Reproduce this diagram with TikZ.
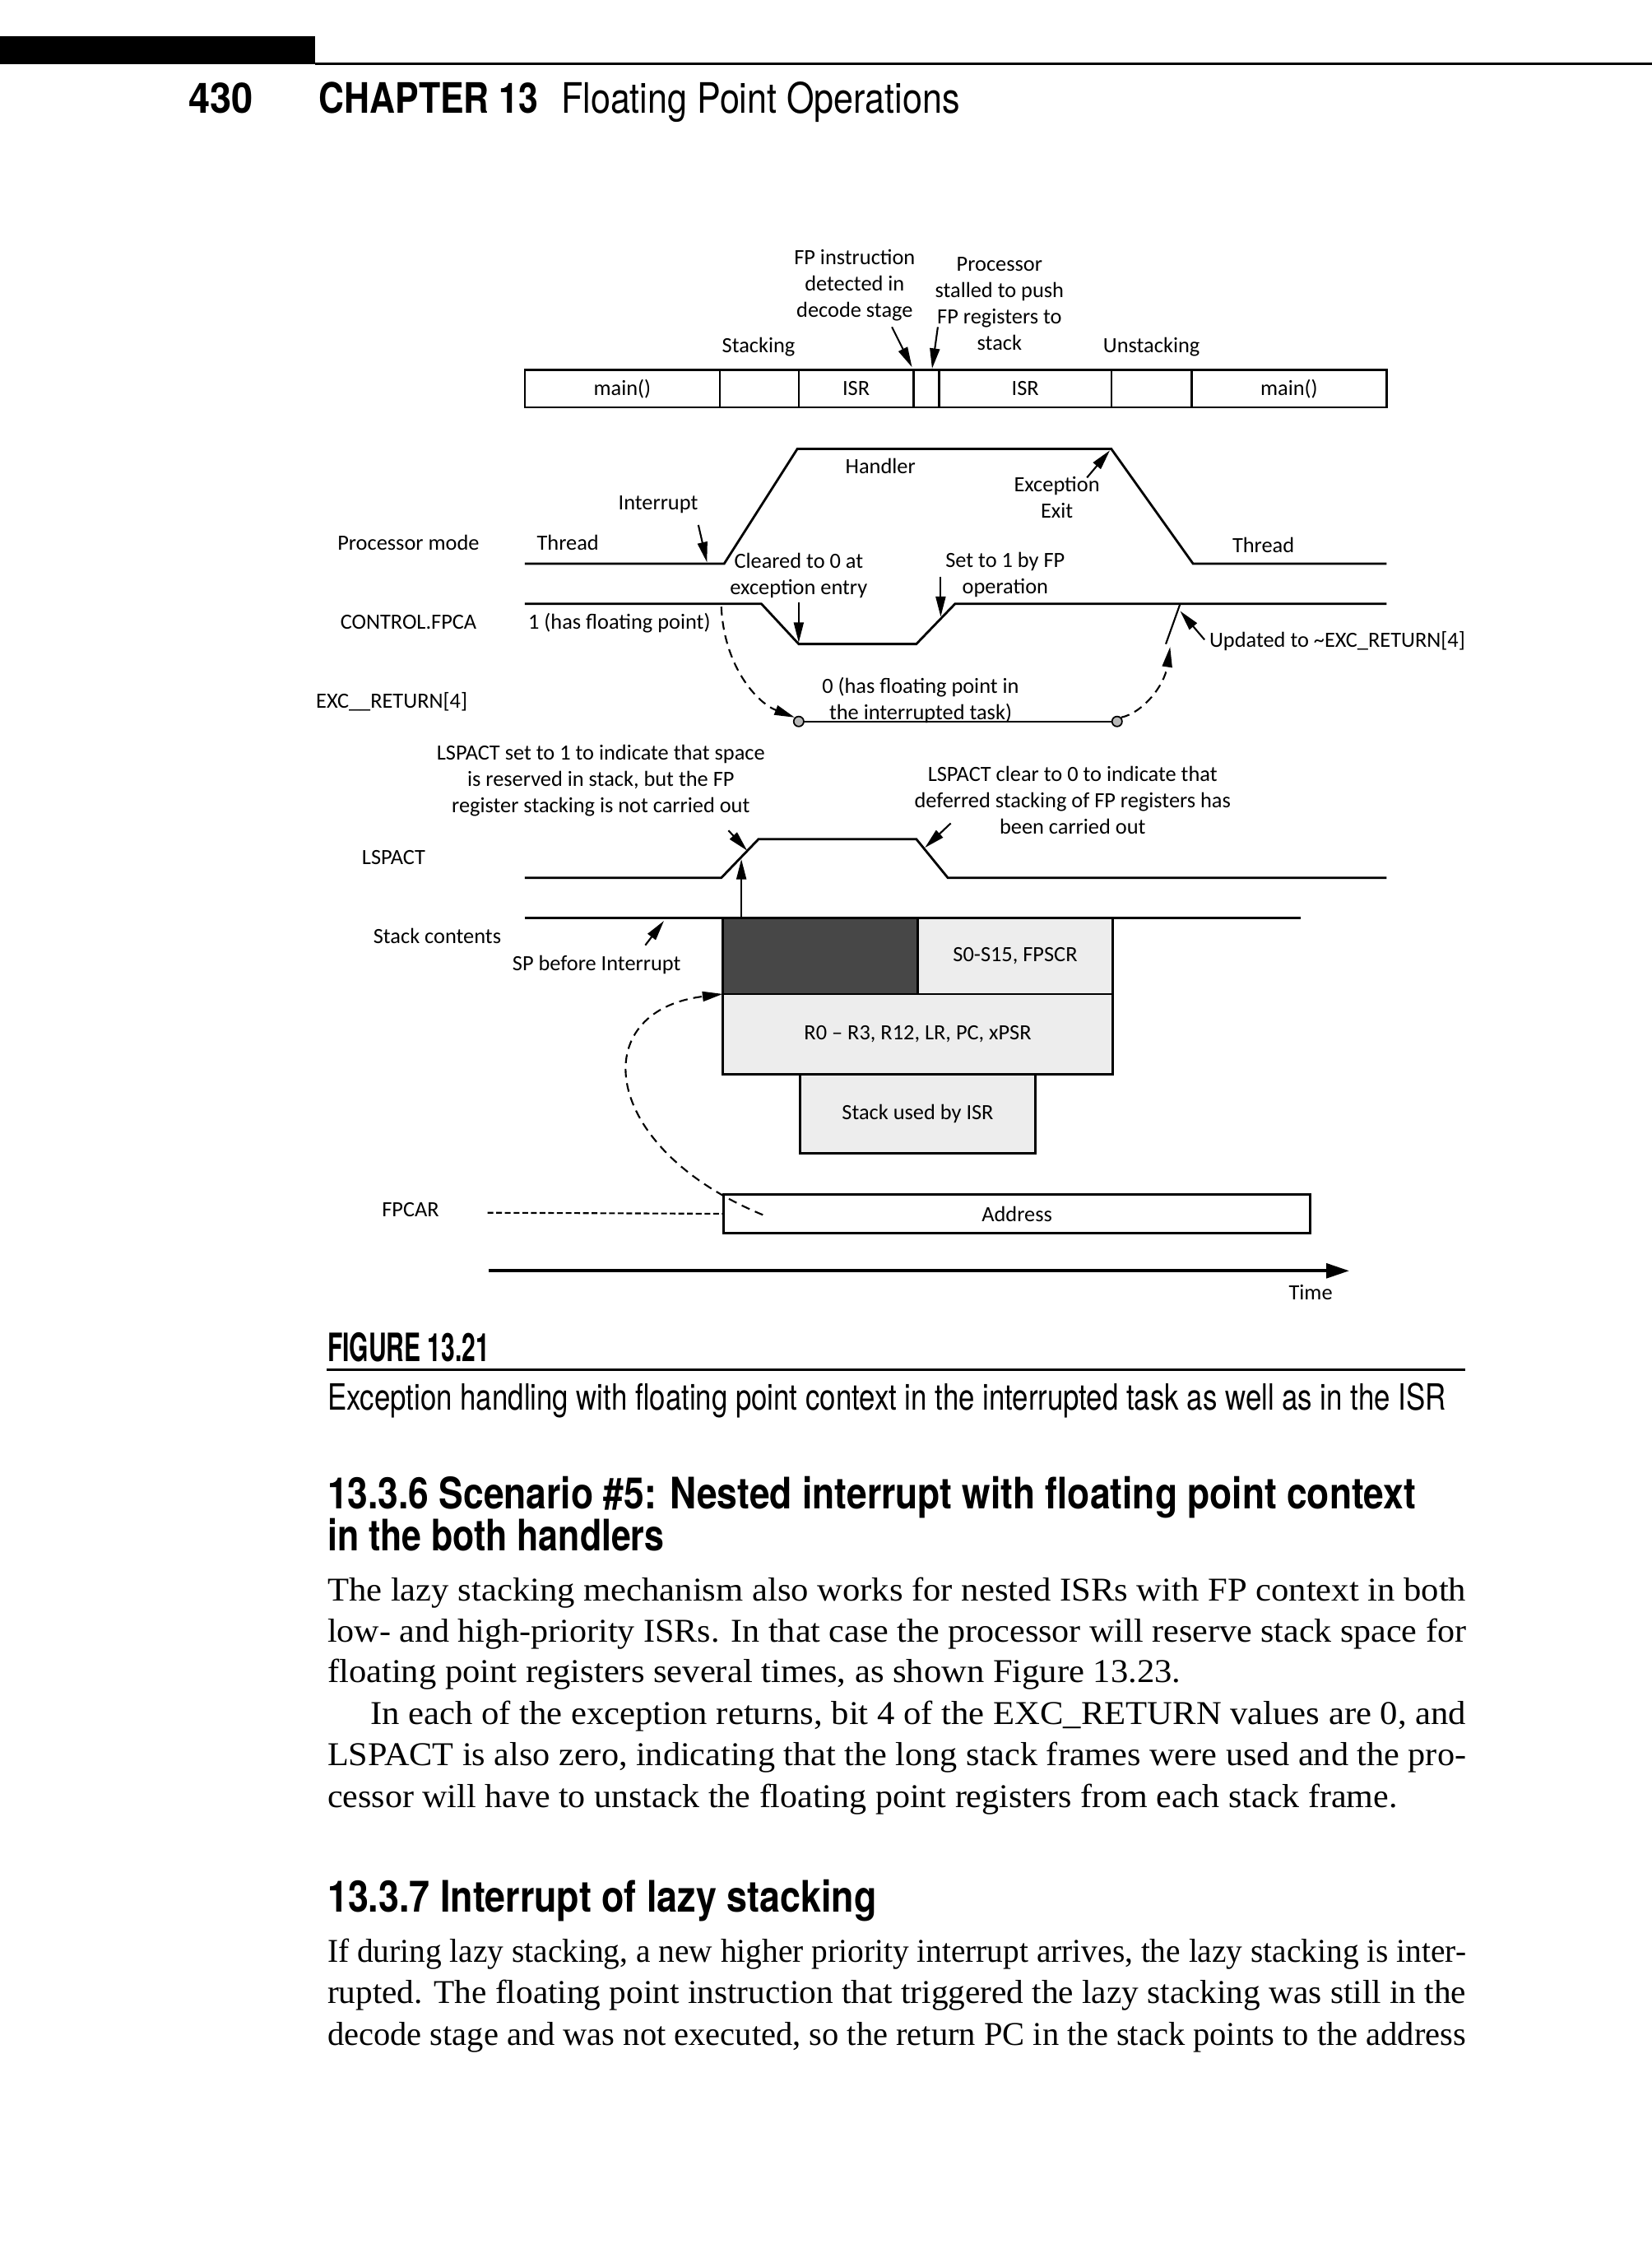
\documentclass[tikz,border=0pt]{standalone}
\usepackage{fontspec}
\usepackage{graphicx}
\setmainfont{Liberation Serif}
\newfontfamily\diagfont{Carlito}
\newfontfamily\headfont{TeX Gyre Heros}
\usetikzlibrary{arrows.meta}
\newlength\upx
\setlength\upx{0.01743cm}
\newcommand\fitw[2]{\resizebox{#1\upx}{\height}{#2}}
\tikzset{
	lbl/.style={font=\diagfont\fontsize{7.5}{9.1}\selectfont, inner sep=0pt},
	lblw/.style={lbl, anchor=base west},
	note/.style={lbl, align=center},
	wave/.style={line width=0.8pt, line join=miter},
	ptr/.style={line width=0.6pt, -{Triangle[length=7pt,width=3.4pt]}},
	dsh/.style={ptr, dash pattern=on 3pt off 2pt},
	cell/.style={draw, line width=0.7pt},
	stk/.style={draw, line width=0.8pt, fill=gray!14, anchor=north west, inner sep=0pt, outer sep=0pt, font=\diagfont\fontsize{7.5}{9.1}\selectfont},
	lvl/.style={draw, line width=0.5pt, fill=gray!55, circle, inner sep=0pt, minimum size=7\upx},
	body/.style={font=\fontsize{11.5}{14.2}\selectfont, inner sep=0pt, anchor=base west},
	head/.style={font=\headfont\bfseries\fontsize{15}{18}\selectfont, inner sep=0pt, anchor=base west},
	plain/.style={head, font=\headfont\fontsize{14.5}{17}\selectfont},
}
\begin{document}
\begin{tikzpicture}[x=0.01743cm, y=-0.01743cm]
	\useasboundingbox (0,0) rectangle (1152,1568);
	% running head
	\fill (0,25) rectangle (220,45);
	\fill (220,43.5) rectangle (1152,45.5);
	\node[head, font=\headfont\bfseries\fontsize{14.5}{17}\selectfont] (pg) at (131,79) {\fitw{45}{430}};
	\node[head, font=\headfont\bfseries\fontsize{14.5}{17}\selectfont] (chap) at (222,79) {\fitw{153}{CHAPTER 13}};
	\node[plain] (ttl) at (391,79) {\fitw{278}{Floating Point Operations}};
	% execution row
	\draw[cell] (366,258) rectangle (967,284);
	\foreach \x in {502,557,637,655,775,831}
		\draw[cell] (\x,258) -- (\x,284);
	\node[lbl] (main1) at (434,271) {main()};
	\node[lbl] (isr1) at (597,271) {ISR};
	\node[lbl] (isr2) at (715,271) {ISR};
	\node[lbl] (main2) at (899,271) {main()};
	\node[lbl] (stkg) at (529,242) {Stacking};
	\node[lbl] (ustkg) at (803,242) {Unstacking};
	\node[note] (fpi) at (596,199) {FP instruction\\detected in\\decode stage};
	\node[note] (stall) at (697,212) {Processor\\stalled to push\\FP registers to\\stack};
	\coordinate (fpiT) at (622,228);  \coordinate (fpiH) at (636,256);
	\coordinate (stT) at (654,228);   \coordinate (stH) at (650,257);
	\draw[ptr] (fpiT) -- (fpiH);
	\draw[ptr] (stT) -- (stH);
	% processor mode
	\node[lblw] (pmL) at (235,383.5) {Processor mode};
	\draw[wave] (366,393) -- (505,393) -- (556,313) -- (775,313) -- (832,393) -- (967,393);
	\node[lblw] (thr1) at (374,383.5) {Thread};
	\node[lbl] (intr) at (459,352) {Interrupt};
	\node[lbl] (hdl) at (614,325) {Handler};
	\node[note] (exit) at (737,347) {Exception\\Exit};
	\node[lbl] (thr2) at (881,380) {Thread};
	\coordinate (intrT) at (487,366); \coordinate (intrH) at (493,392);
	\coordinate (exitT) at (758,333); \coordinate (exitH) at (774,314);
	\draw[ptr] (intrT) -- (intrH);
	\draw[ptr] (exitT) -- (exitH);
	% CONTROL.FPCA
	\node[lblw] (fpcaL) at (237,438.5) {CONTROL.FPCA};
	\draw[wave] (366,421) -- (531,421) -- (557,449) -- (639,449) -- (666,421) -- (967,421);
	\node[lblw] (one) at (368,438.5) {1 (has floating point)};
	\node[note] (clr) at (557,401.5) {Cleared to 0 at\\exception entry};
	\node[note] (set1) at (701,401) {Set to 1 by FP\\operation};
	\node[lblw] (upd) at (843,451.5) {Updated to \textasciitilde EXC\_RETURN[4]};
	\coordinate (clrT) at (557,420); \coordinate (clrH) at (557,448);
	\coordinate (setT) at (656,402); \coordinate (setH) at (656,430);
	\coordinate (updT) at (840,446); \coordinate (updH) at (823,426);
	\draw[ptr] (clrT) -- (clrH);
	\draw[ptr] (setT) -- (setH);
	\draw[ptr] (updT) -- (updH);
	\draw[line width=0.6pt] (813,449) -- (823,421);
	% EXC_RETURN[4]
	\node[lblw] (excL) at (220,493.5) {EXC\_\_RETURN[4]};
	\draw[line width=0.7pt] (557,503) -- (779,503);
	\node[lvl] (d1) at (557,503) {};
	\node[lvl] (d2) at (779,503) {};
	\node[note] (zero) at (642,488) {0 (has floating point in\\the interrupted task)};
	\coordinate (oneT) at (503,423); \coordinate (updB) at (816,451);
	\draw[dsh] (oneT) .. controls (505,465) and (528,490) .. (d1.north west);
	\draw[dsh] (d2.north east) .. controls (797,497) and (812,478) .. (updB);
	% LSPACT
	\node[lblw] (lspL) at (252,602.5) {LSPACT};
	\draw[wave] (366,612) -- (503,612) -- (529,585) -- (639,585) -- (661,612) -- (967,612);
	\node[note] (lsp1) at (419,544) {LSPACT set to 1 to indicate that space\\is reserved in stack, but the FP\\register stacking is not carried out};
	\node[note] (lsp0) at (748,558) {LSPACT clear to 0 to indicate that\\deferred stacking of FP registers has\\been carried out};
	\coordinate (l1T) at (508,579); \coordinate (l1H) at (521,593);
	\coordinate (l0T) at (663,574); \coordinate (l0H) at (645,591);
	\coordinate (resT) at (517,640); \coordinate (resH) at (517,599);
	\draw[ptr] (l1T) -- (l1H);
	\draw[ptr] (l0T) -- (l0H);
	\draw[ptr] (resT) -- (resH);
	% stack contents
	\draw[line width=1pt] (366,640) -- (907,640);
	\node[lblw] (stkL) at (260,657.5) {Stack contents};
	\node[lblw] (spb) at (357,676.5) {SP before Interrupt};
	\coordinate (spT) at (450,659); \coordinate (spH) at (463,642);
	\draw[ptr] (spT) -- (spH);
	\node[stk, minimum width=136\upx, minimum height=53\upx, fill=black!72] (resv) at (504,640) {};
	\node[stk, minimum width=136\upx, minimum height=53\upx] (fpregs) at (640,640) {S0-S15, FPSCR};
	\node[stk, minimum width=272\upx, minimum height=56\upx] (intregs) at (504,693) {R0 – R3, R12, LR, PC, xPSR};
	\node[stk, minimum width=164\upx, minimum height=55\upx] (isrstk) at (558,749) {Stack used by ISR};
	% FPCAR
	\node[lblw] (fpcarL) at (266,848.5) {FPCAR};
	\node[cell, anchor=north west, inner sep=0pt, minimum width=409\upx, minimum height=27\upx, font=\diagfont\fontsize{7.5}{9.1}\selectfont] (addr) at (504,832) {Address};
	\coordinate (fpcarS) at (340,845.5);
	\draw[line width=0.6pt, dash pattern=on 2pt off 1pt] (fpcarS) -- (addr.west);
	\coordinate (addrT) at (532,847);
	\draw[dsh] (addrT) .. controls (418,800) and (408,705) .. (intregs.north west);
	% time axis
	\coordinate (t0) at (341,886); \coordinate (t1) at (941,886);
	\draw[line width=1.2pt, -{Triangle[length=8pt,width=5pt]}] (t0) -- (t1);
	\node[lbl] (time) at (914,901) {Time};
	% caption
	\node[head, font=\headfont\bfseries\fontsize{13.5}{16}\selectfont] (figno) at (228,949) {\fitw{113}{FIGURE 13.21}};
	\draw[line width=0.9pt] (228,955) -- (1022,955);
	\node[plain, font=\headfont\fontsize{12.5}{15}\selectfont] (cap) at (228,983) {\fitw{780}{Exception handling with floating point context in the interrupted task as well as in the ISR}};
	% section 13.3.6
	\node[head] (h1a) at (228,1052) {\fitw{759}{13.3.6 Scenario \#5: Nested interrupt with floating point context}};
	\node[head] (h1b) at (228,1081) {\fitw{235}{in the both handlers}};
	\node[body] (p1) at (228,1116) {\fitw{794}{The lazy stacking mechanism also works for nested ISRs with FP context in both}};
	\node[body] (p2) at (228,1145) {\fitw{794}{low- and high-priority ISRs. In that case the processor will reserve stack space for}};
	\node[body] (p3) at (228,1173) {\fitw{595}{floating point registers several times, as shown Figure 13.23.}};
	\node[body] (p4) at (258,1202) {\fitw{764}{In each of the exception returns, bit 4 of the EXC\_RETURN values are 0, and}};
	\node[body] (p5) at (228,1231) {\fitw{794}{LSPACT is also zero, indicating that the long stack frames were used and the pro-}};
	\node[body] (p6) at (228,1260) {\fitw{746}{cessor will have to unstack the floating point registers from each stack frame.}};
	% section 13.3.7
	\node[head] (h2) at (228,1333) {\fitw{383}{13.3.7 Interrupt of lazy stacking}};
	\node[body] (q1) at (228,1368) {\fitw{794}{If during lazy stacking, a new higher priority interrupt arrives, the lazy stacking is inter-}};
	\node[body] (q2) at (228,1397) {\fitw{794}{rupted. The floating point instruction that triggered the lazy stacking was still in the}};
	\node[body] (q3) at (228,1426) {\fitw{794}{decode stage and was not executed, so the return PC in the stack points to the address}};
\end{tikzpicture}
\end{document}
